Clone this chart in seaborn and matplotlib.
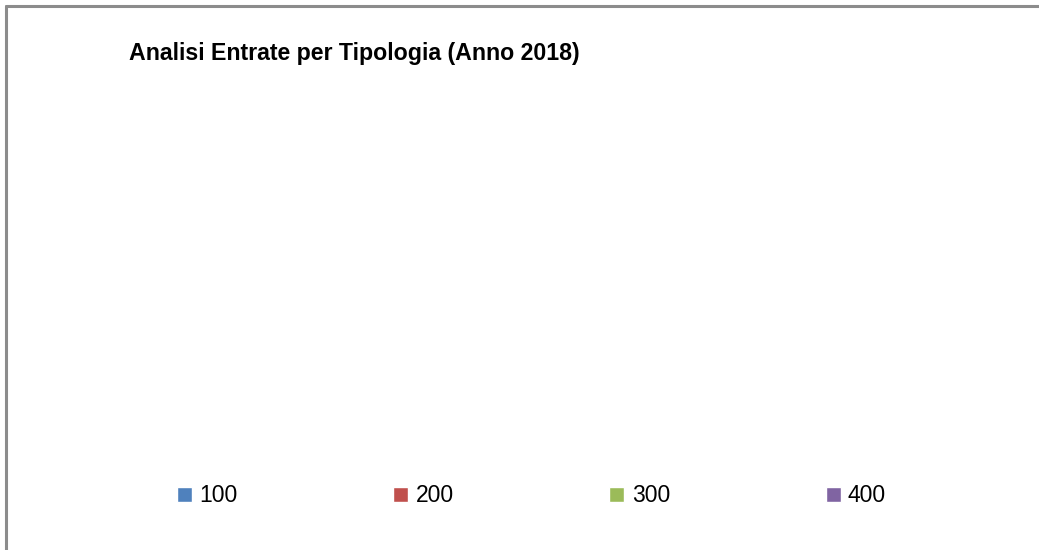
import matplotlib
matplotlib.use("Agg")
import matplotlib.pyplot as plt
from matplotlib.lines import Line2D
import seaborn as sns

# dati del grafico (tutte le tipologie a zero -> nessuna fetta visibile)
tipologie = ["100", "200", "300", "400"]
entrate = [0, 0, 0, 0]
colori = ["#4F81BD", "#C0504D", "#9BBB59", "#8064A2"]

sns.set_style("white")
plt.rcParams['font.family'] = ['Liberation Sans', 'DejaVu Sans']

fig = plt.figure(figsize=(10.39, 5.5), dpi=100)
ax = fig.add_axes([0.1, 0.2, 0.8, 0.6])

sns.barplot(x=tipologie, y=entrate, hue=tipologie, palette=colori, saturation=1,
            ax=ax, legend=True)
handles, labels = ax.get_legend_handles_labels()
if ax.get_legend() is not None:
    ax.get_legend().remove()
ax.set_axis_off()

# titolo
fig.text(129 / 1039, 1 - 60 / 550, "Analisi Entrate per Tipologia (Anno 2018)",
         fontsize=16.7, fontweight="bold", ha="left", va="baseline", color="black")

# legenda in basso
leg = fig.legend(handles, labels, loc="center", ncol=4,
                 bbox_to_anchor=((181 + 882) / 2 / 1039, 1 - 496 / 550),
                 frameon=False, fontsize=16.5, handlelength=0.65, handleheight=0.65,
                 handletextpad=0.32, columnspacing=6.8)
for t in leg.get_texts():
    t.set_color("black")

# cornice (solo bordo superiore e sinistro visibili)
fig.add_artist(Line2D([5.5 / 1039, 1], [1 - 5.5 / 550, 1 - 5.5 / 550], color="#8c8c8c",
                      lw=2.2, transform=fig.transFigure))
fig.add_artist(Line2D([5.5 / 1039, 5.5 / 1039], [0, 1 - 5.5 / 550], color="#8c8c8c",
                      lw=2.2, transform=fig.transFigure))

plt.savefig("out.png", dpi=100)
plt.close()
